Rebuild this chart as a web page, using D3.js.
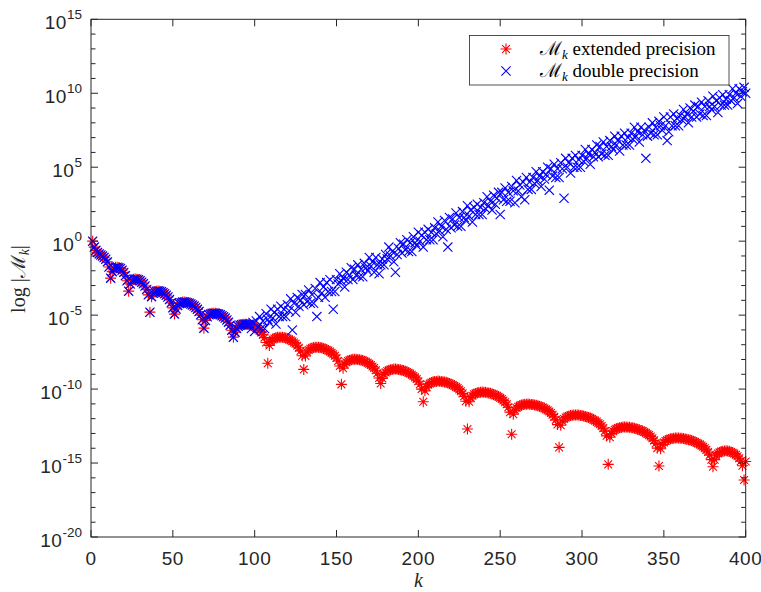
<!DOCTYPE html>
<html><head><meta charset="utf-8">
<script src="https://cdn.jsdelivr.net/npm/d3@7"></script>
<style>body{margin:0;background:#fff}</style>
</head><body>
<svg id="chart" width="761" height="592" xmlns="http://www.w3.org/2000/svg"></svg>
<script>
// k runs from 1 to 400; values are log10|M_k|
const kFirst = 1;
const extendedLog10 = [
0.00,-0.40,-0.62,-0.76,-0.86,-0.94,-1.01,-1.10,-1.22,-1.40,-1.75,-2.50,
-2.06,-1.85,-1.77,-1.76,-1.79,-1.85,-1.96,-2.11,-2.33,-2.68,-3.38,
-2.89,-2.66,-2.58,-2.56,-2.57,-2.61,-2.67,-2.77,-2.88,-3.03,-3.27,-3.63,-4.80,
-3.75,-3.52,-3.42,-3.38,-3.37,-3.38,-3.42,-3.48,-3.56,-3.66,-3.78,-3.94,-4.16,-4.51,-4.93,
-4.59,-4.35,-4.22,-4.16,-4.12,-4.12,-4.13,-4.16,-4.19,-4.25,-4.31,-4.39,-4.48,-4.61,-4.76,-4.98,-5.31,-5.88,
-5.36,-5.11,-4.98,-4.92,-4.88,-4.87,-4.88,-4.90,-4.93,-4.98,-5.04,-5.11,-5.20,-5.33,-5.48,-5.69,-6.02,-6.49,
-6.15,-5.90,-5.76,-5.69,-5.65,-5.62,-5.61,-5.62,-5.63,-5.66,-5.70,-5.75,-5.80,-5.87,-5.96,-6.05,-6.17,-6.32,-6.52,-6.85,-8.25,
-7.05,-6.79,-6.65,-6.58,-6.52,-6.50,-6.49,-6.49,-6.50,-6.52,-6.55,-6.59,-6.64,-6.70,-6.77,-6.85,-6.94,-7.07,-7.21,-7.42,-7.75,-8.67,
-7.76,-7.50,-7.36,-7.27,-7.22,-7.19,-7.18,-7.17,-7.18,-7.19,-7.21,-7.25,-7.29,-7.34,-7.39,-7.46,-7.55,-7.64,-7.75,-7.90,-8.10,-8.44,-9.68,
-8.59,-8.33,-8.19,-8.10,-8.05,-8.01,-7.99,-7.98,-7.98,-8.00,-8.01,-8.04,-8.07,-8.12,-8.16,-8.22,-8.29,-8.37,-8.47,-8.58,-8.73,-8.93,-9.25,-9.62,
-9.28,-9.01,-8.87,-8.78,-8.73,-8.69,-8.67,-8.65,-8.65,-8.66,-8.67,-8.69,-8.72,-8.75,-8.79,-8.84,-8.89,-8.95,-9.03,-9.11,-9.21,-9.32,-9.47,-9.67,-10.00,-10.86,
-10.12,-9.85,-9.71,-9.62,-9.55,-9.51,-9.49,-9.48,-9.46,-9.47,-9.48,-9.50,-9.52,-9.54,-9.58,-9.62,-9.67,-9.72,-9.78,-9.85,-9.93,-10.03,-10.15,-10.29,-10.49,-10.82,-12.70,
-10.86,-10.59,-10.45,-10.35,-10.29,-10.25,-10.23,-10.22,-10.20,-10.21,-10.22,-10.24,-10.26,-10.28,-10.32,-10.36,-10.41,-10.46,-10.52,-10.59,-10.67,-10.77,-10.89,-11.03,-11.23,-11.56,-13.05,
-11.70,-11.43,-11.28,-11.19,-11.12,-11.08,-11.05,-11.03,-11.02,-11.01,-11.02,-11.04,-11.05,-11.07,-11.09,-11.13,-11.16,-11.20,-11.25,-11.30,-11.37,-11.44,-11.52,-11.62,-11.73,-11.88,-12.08,-12.40,-13.94,
-12.44,-12.16,-12.02,-11.92,-11.86,-11.82,-11.78,-11.77,-11.75,-11.75,-11.76,-11.76,-11.78,-11.79,-11.82,-11.85,-11.88,-11.92,-11.96,-12.01,-12.07,-12.13,-12.20,-12.29,-12.38,-12.50,-12.64,-12.84,-13.16,-15.09,
-13.26,-13.00,-12.84,-12.75,-12.68,-12.64,-12.61,-12.59,-12.57,-12.57,-12.57,-12.58,-12.58,-12.61,-12.62,-12.65,-12.68,-12.71,-12.75,-12.80,-12.84,-12.90,-12.96,-13.04,-13.11,-13.21,-13.32,-13.47,-13.67,-13.99,-15.20,
-14.03,-13.75,-13.61,-13.51,-13.44,-13.40,-13.36,-13.34,-13.32,-13.31,-13.31,-13.31,-13.32,-13.33,-13.34,-13.37,-13.39,-13.42,-13.45,-13.48,-13.53,-13.57,-13.63,-13.68,-13.74,-13.82,-13.90,-14.00,-14.11,-14.25,-14.45,-14.77,-15.25,
-14.77,-14.51,-14.36,-14.28,-14.22,-14.20,-14.18,-14.17,-14.19,-14.21,-14.25,-14.30,-14.36,-14.44,-14.54,-14.68,-14.87,-15.18,-16.15,-14.90
];
const doubleLog10 = [
0.00,-0.40,-0.62,-0.76,-0.86,-0.94,-1.01,-1.10,-1.22,-1.40,-1.75,-2.50,
-2.06,-1.85,-1.77,-1.76,-1.79,-1.85,-1.96,-2.11,-2.33,-2.68,-3.38,
-2.89,-2.66,-2.58,-2.56,-2.57,-2.61,-2.67,-2.77,-2.88,-3.03,-3.27,-3.63,-4.80,
-3.75,-3.52,-3.42,-3.38,-3.37,-3.38,-3.42,-3.48,-3.56,-3.66,-3.78,-3.94,-4.16,-4.51,-4.93,
-4.59,-4.35,-4.22,-4.16,-4.12,-4.12,-4.13,-4.16,-4.19,-4.25,-4.31,-4.39,-4.48,-4.61,-4.76,-4.98,-5.31,-5.88,
-5.36,-5.11,-4.98,-4.92,-4.88,-4.87,-4.88,-4.90,-4.93,-4.98,-5.04,-5.11,-5.20,-5.33,-5.48,-5.69,-6.02,-6.49,
-6.15,-5.90,-5.76,-5.69,-5.65,-5.62,-5.61,-5.62,-5.63,
-5.6,-5.9,-5.5,-6.1,
-5.4,-5.8,-5.1,-5.9,-5.4,-5.9,-4.9,-5.3,-5.5,-4.6,
-5.2,-4.8,-5.6,-4.6,-5.1,-4.4,-5.1,-4.6,-5.1,-4.3,
-4.7,-3.9,-6.0,-4.2,-4.8,-3.8,-4.4,-4.0,-3.6,-4.3,
-3.6,-4.1,-3.3,-4.2,-3.6,-4.2,-3.2,-5.1,-3.8,-2.8,
-3.5,-3.1,-3.8,-2.8,-3.4,-2.6,-3.4,-4.6,-3.4,-2.6,
-2.9,-2.2,-2.7,-2.5,-3.1,-2.1,-2.6,-2.3,-1.8,-2.6,
-1.9,-2.3,-1.6,-2.4,-1.9,-2.4,-1.5,-1.8,-2.0,-1.1,
-1.7,-1.4,-2.1,-1.1,-1.6,-2.2,-1.6,-1.2,-1.6,-0.9,
-1.2,-0.4,-1.0,-0.7,-1.4,-2.1,-0.9,-0.5,-0.1,-0.8,
-0.2,-0.6,0.1,-0.7,-0.1,-0.7,0.3,-0.1,-0.3,0.6,
0.0,0.4,-0.4,0.6,0.1,0.8,0.1,0.6,0.1,0.9,
0.5,1.3,0.7,1.0,0.3,1.4,0.8,-0.4,1.6,0.9,
1.5,1.1,1.9,1.0,1.6,1.0,2.0,1.6,1.4,2.4,
1.7,2.1,1.3,2.3,1.8,2.5,1.8,2.3,1.8,2.6,
2.2,3.0,2.4,2.7,2.1,3.1,2.5,2.9,3.3,1.8,
3.3,2.8,3.6,2.7,3.3,2.7,3.7,3.4,2.6,4.1,
3.4,3.8,3.0,4.0,2.8,4.3,3.5,4.0,3.5,4.3,
3.9,4.7,4.1,4.4,3.7,4.7,4.2,4.5,5.0,3.45,
4.9,4.4,5.2,4.3,4.9,4.3,5.3,4.9,2.9,5.6,
5.0,5.3,4.6,5.6,5.0,5.8,5.0,5.5,5.0,5.8,
5.4,6.2,5.6,5.9,5.2,6.2,5.7,6.0,6.5,5.7,
6.4,5.9,6.7,5.8,6.4,5.8,6.8,6.4,6.2,7.1,
6.5,6.8,6.1,7.1,6.5,7.3,6.5,7.0,6.5,7.3,
6.9,7.7,7.1,7.4,6.7,7.7,7.2,7.5,5.6,7.1,
7.7,7.3,8.0,7.2,7.7,7.2,8.1,7.8,7.5,8.4,
7.8,6.8,7.4,8.4,7.8,8.6,7.8,8.3,7.8,8.5,
8.2,8.9,8.4,8.6,8.0,9.0,8.4,8.8,9.2,8.4,
9.1,8.6,9.4,8.5,9.1,8.5,9.5,9.1,8.9,9.8,
9.1,9.5,8.7,9.7,9.2,9.9,9.2,9.6,9.2,9.9,
9.5,10.3,9.7,10.0,9.3,10.3,9.8,10.1,10.4,10.0
];
const xTickValues = [0, 50, 100, 150, 200, 250, 300, 350, 400];
const yLabelExponents = [-20, -15, -10, -5, 0, 5, 10, 15];
const yMinorExponents = d3.range(-20, 16);
const seriesNames = ["extended precision", "double precision"];
const seriesColors = ["#ff0000", "#0000ff"];

const svg = d3.select("#chart");
const P = {left: 91, right: 745.7, top: 19.3, bottom: 537};
const x = d3.scaleLinear().domain([0, 400]).range([P.left, P.right]);
const y = d3.scaleLog().domain([1e-20, 1e15]).range([P.bottom, P.top]);
const axisColor = "#262626";

svg.append("rect").attr("width", 761).attr("height", 592).attr("fill", "#fff");

const star = "M-5.5,0H5.5M0,-5.5V5.5M-3.9,-3.9L3.9,3.9M-3.9,3.9L3.9,-3.9";
const cross = "M-4.6,-4.6L4.6,4.6M-4.6,4.6L4.6,-4.6";

function toPoints(arr) { return arr.map((v, i) => ({k: kFirst + i, v: Math.pow(10, v)})); }

const gData = svg.append("g");
gData.append("g").selectAll("path").data(toPoints(extendedLog10)).join("path")
  .attr("transform", d => `translate(${x(d.k)},${y(d.v)})`)
  .attr("d", star).attr("fill", "none").attr("stroke", seriesColors[0]).attr("stroke-width", 1.1);
gData.append("g").selectAll("path").data(toPoints(doubleLog10)).join("path")
  .attr("transform", d => `translate(${x(d.k)},${y(d.v)})`)
  .attr("d", cross).attr("fill", "none").attr("stroke", seriesColors[1]).attr("stroke-width", 1.1);

// axes box
const gAx = svg.append("g").attr("stroke", axisColor).attr("stroke-width", 1).attr("fill", "none");
gAx.append("rect").attr("x", P.left).attr("y", P.top).attr("width", P.right - P.left).attr("height", P.bottom - P.top);
const majorLen = 7, minorLen = 4.5;
xTickValues.forEach(t => {
  gAx.append("line").attr("x1", x(t)).attr("x2", x(t)).attr("y1", P.bottom).attr("y2", P.bottom - majorLen);
  gAx.append("line").attr("x1", x(t)).attr("x2", x(t)).attr("y1", P.top).attr("y2", P.top + majorLen);
});
yMinorExponents.forEach(e => {
  const len = (e % 5 === 0) ? majorLen : minorLen;
  const yy = y(Math.pow(10, e));
  gAx.append("line").attr("x1", P.left).attr("x2", P.left + len).attr("y1", yy).attr("y2", yy);
  gAx.append("line").attr("x1", P.right).attr("x2", P.right - len).attr("y1", yy).attr("y2", yy);
});

const tickFont = "'Liberation Sans', Arial, Helvetica, sans-serif";
svg.append("g").selectAll("text").data(xTickValues).join("text")
  .attr("x", d => x(d)).attr("y", 565).attr("text-anchor", "middle")
  .attr("font-family", tickFont).attr("font-size", 19).attr("letter-spacing", 0.6).attr("fill", axisColor)
  .text(d => d);

const yl = svg.append("g").selectAll("text").data(yLabelExponents).join("text")
  .attr("x", 82).attr("y", d => y(Math.pow(10, d)) + 10).attr("text-anchor", "end")
  .attr("font-family", tickFont).attr("fill", axisColor);
yl.append("tspan").attr("font-size", 19).attr("letter-spacing", 0.6).text("10");
yl.append("tspan").attr("font-size", 13.5).attr("dy", -10).text(d => d);

// axis labels
const serif = "'Liberation Serif', 'Times New Roman', serif";
svg.append("text").attr("x", x(200)).attr("y", 587).attr("text-anchor", "middle")
  .attr("font-family", serif).attr("font-style", "italic").attr("font-size", 20).attr("fill", axisColor).text("k");

const ylab = svg.append("text").attr("transform", "translate(25,279) rotate(-90)")
  .attr("text-anchor", "middle").attr("font-family", serif).attr("font-size", 20).attr("fill", axisColor);
ylab.append("tspan").text("log |");
ylab.append("tspan").attr("font-family", "'DejaVu Serif', serif").attr("font-size", 20).text("ℳ");
ylab.append("tspan").attr("font-style", "italic").attr("font-size", 14).attr("dy", 4).text("k");
ylab.append("tspan").attr("dy", -4).text("|");

// legend
const L = {x: 469.5, y: 35.5, w: 259.5, h: 49.5};
svg.append("rect").attr("x", L.x).attr("y", L.y).attr("width", L.w).attr("height", L.h)
  .attr("fill", "#fff").attr("stroke", axisColor).attr("stroke-width", 0.8);
const rowsY = [49, 71];
[star, cross].forEach((m, i) => {
  svg.append("path").attr("transform", `translate(506,${rowsY[i]})`).attr("d", m)
    .attr("fill", "none").attr("stroke", seriesColors[i]).attr("stroke-width", 1.1);
  const t = svg.append("text").attr("x", 540).attr("y", rowsY[i] + 6)
    .attr("font-family", serif).attr("font-size", 19).attr("fill", "#000");
  t.append("tspan").attr("font-family", "'DejaVu Serif', serif").attr("font-size", 19).text("ℳ");
  t.append("tspan").attr("font-style", "italic").attr("font-size", 13).attr("dy", 4).text("k");
  t.append("tspan").attr("dy", -4).text(" " + seriesNames[i]);
});
</script>
</body></html>
